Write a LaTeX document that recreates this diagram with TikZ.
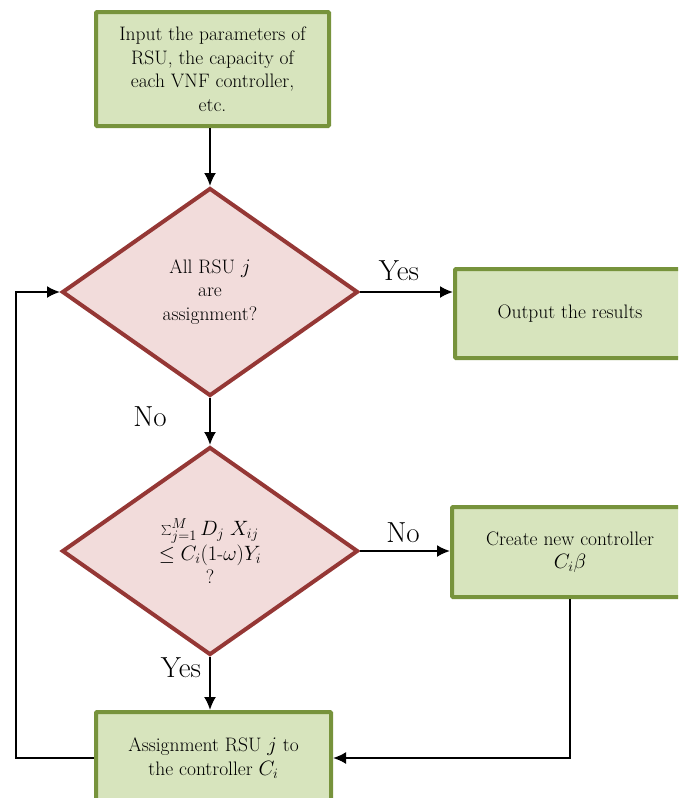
\documentclass[tikz,border=0pt]{standalone}
\usepackage{fontspec}
\usetikzlibrary{shapes.geometric,arrows.meta}
\definecolor{boxfill}{HTML}{D7E4BD}
\definecolor{boxline}{HTML}{77933C}
\definecolor{dfill}{HTML}{F2DCDB}
\definecolor{dline}{HTML}{953735}
\tikzset{
  procbox/.style={draw=boxline, fill=boxfill, line width=4pt, rounded corners=1pt, align=center, inner sep=0pt, font=\fontsize{19.5}{23.5}\selectfont},
  decision/.style={diamond, draw=dline, fill=dfill, line width=4pt, inner sep=0pt, align=center, minimum width=296pt, minimum height=208pt, font=\fontsize{19.5}{23.5}\selectfont},
  arr/.style={line width=2pt, -{Latex[length=13pt,width=12pt]}},
  lbl/.style={font=\fontsize{29}{32}\selectfont, inner sep=0pt}
}
\begin{document}
\begin{tikzpicture}[x=1pt,y=-1pt]
\useasboundingbox (0,0) rectangle (678,798);
\clip (0,0) rectangle (678,798);
\node[procbox, minimum width=233pt, minimum height=114pt] (top) at (212.5,69) {Input the parameters of\\RSU, the capacity of\\each VNF controller,\\etc.};
\node[decision] (d1) at (210,292) {All RSU $j$\\are\\assignment?};
\node[procbox, minimum width=230pt, minimum height=89pt] (out) at (570,313.5) {Output the results};
\node[decision] (d2) at (210,551) {$\sum_{j=1}^{M} D_j\; X_{ij}$\\[1pt]$\leq C_i(1$-$\omega)Y_i$\\?};
\node[procbox, minimum width=236pt, minimum height=90pt] (create) at (570,552) {Create new controller\\$C_i\beta$};
\node[procbox, minimum width=235pt, minimum height=92pt] (assign) at (213.5,758) {Assignment RSU $j$ to\\the controller $C_i$};
\node[lbl] (yes1) at (399,271) {Yes};
\node[lbl] (no1) at (150,417) {No};
\node[lbl] (no2) at (403,533) {No};
\node[lbl] (yes2) at (181,668) {Yes};
\coordinate (lp) at (16,292);
\draw[arr] (d1.north |- top.south) -- (d1.north);
\draw[arr] (d1.east) -- (d1.east -| out.west);
\draw[arr] (d1.south) -- (d2.north);
\draw[arr] (d2.east) -- (d2.east -| create.west);
\draw[arr] (d2.south) -- (d2.south |- assign.north);
\draw[arr] (create.south) |- (assign.east);
\draw[arr] (assign.west) -| (lp) -- (d1.west);
\end{tikzpicture}
\end{document}
